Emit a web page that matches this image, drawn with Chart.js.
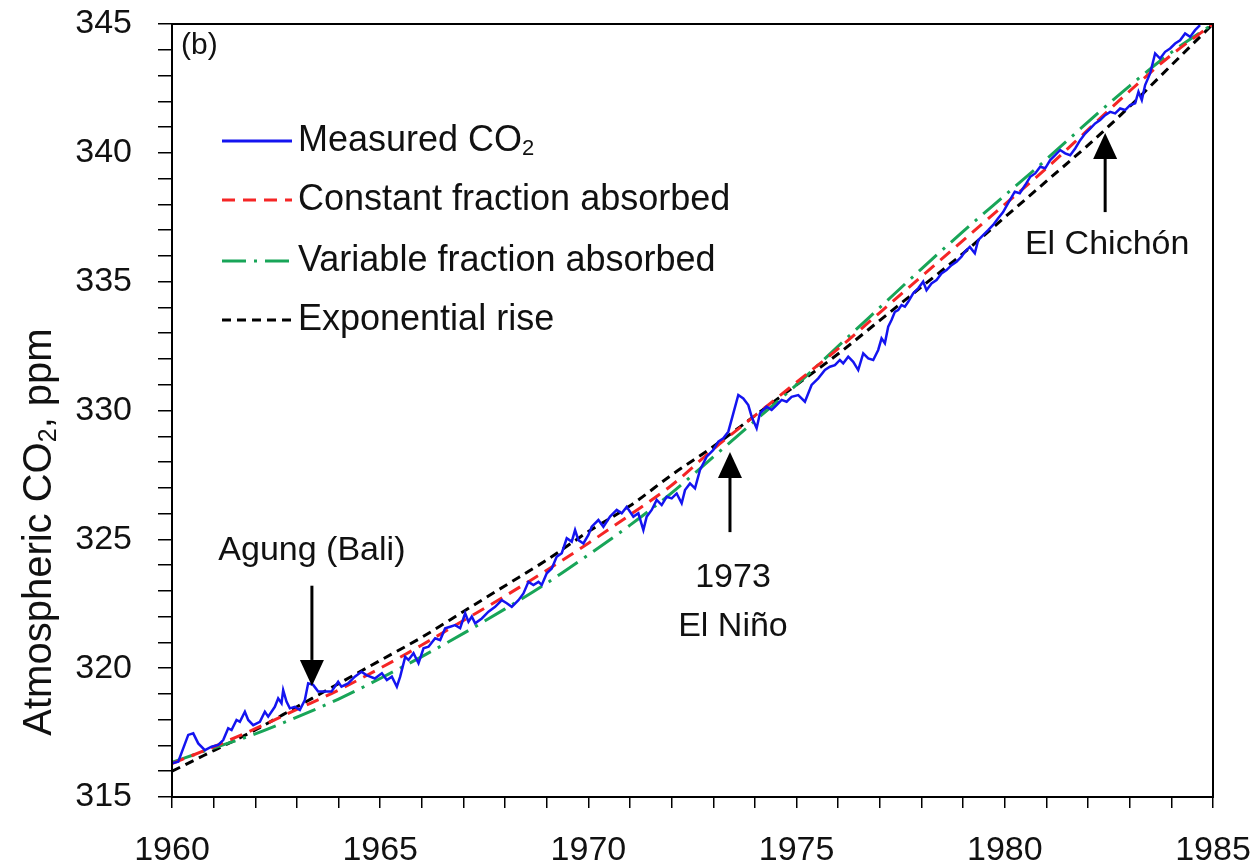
<!DOCTYPE html>
<html>
<head>
<meta charset="utf-8">
<title>Atmospheric CO2 1960-1985</title>
<script src="https://cdn.jsdelivr.net/npm/chart.js@4.4.1/dist/chart.umd.min.js"></script>
<style>
    html, body { margin: 0; padding: 0; background: #fff; }
    #wrap { width: 1257px; height: 868px; position: relative; }
</style>
</head>
<body>
<div id="wrap"><canvas id="co2Chart" width="1257" height="868"></canvas></div>
<script>
// Measured (deseasonalised) CO2
const measuredYear = [
    1960.00, 1960.15, 1960.39, 1960.51, 1960.63, 1960.79, 1960.95, 1961.11, 1961.23, 1961.35,
    1961.43, 1961.55, 1961.63, 1961.75, 1961.83, 1961.95, 1962.11, 1962.23, 1962.31, 1962.47,
    1962.55, 1962.63, 1962.67, 1962.75, 1962.83, 1962.95, 1963.07, 1963.19, 1963.27, 1963.39,
    1963.51, 1963.67, 1963.83, 1963.99, 1964.07, 1964.23, 1964.39, 1964.55, 1964.67, 1964.87,
    1965.04, 1965.16, 1965.28, 1965.40, 1965.48, 1965.60, 1965.68, 1965.80, 1965.92, 1966.04,
    1966.16, 1966.32, 1966.44, 1966.56, 1966.68, 1966.80, 1966.92, 1967.04, 1967.12, 1967.20,
    1967.28, 1967.44, 1967.60, 1967.76, 1967.92, 1968.04, 1968.16, 1968.32, 1968.44, 1968.56,
    1968.68, 1968.80, 1968.88, 1969.00, 1969.12, 1969.24, 1969.36, 1969.48, 1969.60, 1969.68,
    1969.76, 1969.88, 1970.00, 1970.08, 1970.24, 1970.36, 1970.52, 1970.68, 1970.80, 1970.92,
    1971.08, 1971.20, 1971.32, 1971.40, 1971.52, 1971.64, 1971.76, 1971.88, 1972.00, 1972.12,
    1972.24, 1972.32, 1972.44, 1972.56, 1972.68, 1972.84, 1973.00, 1973.12, 1973.24, 1973.36,
    1973.48, 1973.60, 1973.72, 1973.84, 1973.92, 1974.04, 1974.12, 1974.28, 1974.40, 1974.52,
    1974.64, 1974.76, 1974.88, 1975.04, 1975.20, 1975.36, 1975.52, 1975.68, 1975.80, 1975.92,
    1976.04, 1976.12, 1976.24, 1976.36, 1976.48, 1976.60, 1976.72, 1976.84, 1976.96, 1977.04,
    1977.12, 1977.20, 1977.28, 1977.36, 1977.44, 1977.52, 1977.60, 1977.68, 1977.80, 1977.92,
    1978.04, 1978.12, 1978.24, 1978.36, 1978.48, 1978.60, 1978.72, 1978.84, 1978.96, 1979.04,
    1979.16, 1979.28, 1979.36, 1979.48, 1979.60, 1979.72, 1979.84, 1979.96, 1980.08, 1980.24,
    1980.36, 1980.49, 1980.61, 1980.73, 1980.85, 1980.97, 1981.09, 1981.21, 1981.33, 1981.45,
    1981.57, 1981.69, 1981.81, 1981.93, 1982.05, 1982.17, 1982.29, 1982.41, 1982.53, 1982.65,
    1982.77, 1982.89, 1983.01, 1983.13, 1983.21, 1983.29, 1983.37, 1983.49, 1983.61, 1983.73,
    1983.85, 1983.97, 1984.09, 1984.21, 1984.33, 1984.45, 1984.57, 1984.69
];
const measuredPpm = [
    316.31, 316.37, 317.41, 317.47, 317.08, 316.82, 316.95, 317.02, 317.21, 317.67,
    317.60, 317.99, 317.92, 318.31, 317.99, 317.79, 317.92, 318.31, 318.12, 318.50,
    318.83, 318.64, 319.15, 318.70, 318.44, 318.50, 318.38, 318.76, 319.41, 319.35,
    319.09, 319.09, 319.09, 319.47, 319.28, 319.41, 319.67, 319.86, 319.73, 319.60,
    319.80, 319.54, 319.67, 319.28, 319.67, 320.44, 320.32, 320.58, 320.19, 320.77,
    320.83, 321.16, 321.09, 321.55, 321.61, 321.67, 321.55, 322.13, 321.80, 322.00,
    321.74, 321.93, 322.19, 322.38, 322.64, 322.52, 322.38, 322.64, 322.90, 323.35,
    323.23, 323.35, 323.23, 323.68, 323.87, 324.33, 324.46, 325.04, 324.91, 325.36,
    324.97, 324.84, 325.17, 325.49, 325.75, 325.49, 325.88, 326.14, 326.01, 326.26,
    325.88, 326.01, 325.36, 325.88, 326.14, 326.53, 326.33, 326.65, 326.59, 326.78,
    326.40, 326.91, 327.17, 326.98, 327.69, 328.21, 328.47, 328.79, 328.92, 329.18,
    329.89, 330.60, 330.47, 330.21, 329.76, 329.31, 329.89, 330.15, 330.02, 330.21,
    330.41, 330.34, 330.53, 330.60, 330.34, 330.99, 331.25, 331.57, 331.70, 331.76,
    331.96, 331.83, 332.09, 331.89, 331.57, 332.22, 332.02, 331.96, 332.35, 332.80,
    332.61, 333.25, 333.51, 333.83, 333.90, 334.09, 334.03, 334.22, 334.55, 334.74,
    335.00, 334.67, 334.93, 335.06, 335.32, 335.45, 335.64, 335.77, 335.97, 336.16,
    336.35, 336.10, 336.61, 336.81, 337.00, 337.20, 337.46, 337.70, 338.05, 338.49,
    338.43, 338.75, 339.07, 339.20, 339.46, 339.40, 339.72, 339.91, 340.11, 339.98,
    339.91, 340.17, 340.49, 340.75, 340.94, 341.14, 341.27, 341.46, 341.59, 341.53,
    341.72, 341.66, 341.85, 341.92, 342.37, 342.05, 342.63, 343.08, 343.86, 343.66,
    343.92, 344.05, 344.24, 344.37, 344.63, 344.50, 344.76, 344.96
];

// Model curves, read once per year
const modelYear = [1960, 1961, 1962, 1963, 1964, 1965, 1966, 1967, 1968, 1969, 1970, 1971, 1972,
                   1973, 1974, 1975, 1976, 1977, 1978, 1979, 1980, 1981, 1982, 1983, 1984, 1985];
const constantFraction = [316.30, 316.95, 317.65, 318.40, 319.15, 320.00, 320.90, 321.85, 322.80,
                          323.80, 324.85, 325.95, 327.10, 328.50, 329.80, 331.10, 332.40, 333.80,
                          335.20, 336.60, 338.00, 339.40, 340.90, 342.40, 343.80, 345.00];
const variableFraction = [316.35, 316.90, 317.45, 318.10, 318.80, 319.60, 320.45, 321.35, 322.30,
                          323.30, 324.40, 325.55, 326.80, 328.20, 329.60, 331.00, 332.50, 334.00,
                          335.50, 336.95, 338.35, 339.75, 341.20, 342.60, 343.90, 345.00];
const exponentialRise = [316.00, 316.80, 317.60, 318.50, 319.40, 320.30, 321.20, 322.20, 323.20,
                         324.20, 325.30, 326.30, 327.50, 328.60, 329.80, 331.00, 332.20, 333.50,
                         334.80, 336.10, 337.50, 338.90, 340.30, 341.80, 343.40, 345.00];

const FONT = '"Liberation Sans", Arial, sans-serif';

function toPoints(xs, ys) {
    return xs.map((x, i) => ({ x: x, y: ys[i] }));
}

function drawSubText(ctx, main, sub, tail, x, y, size) {
    // main text, subscript "2", then the rest
    ctx.font = size + 'px ' + FONT;
    ctx.fillText(main, x, y);
    let w = ctx.measureText(main).width;
    ctx.font = Math.round(size * 0.62) + 'px ' + FONT;
    ctx.fillText(sub, x + w, y + size * 0.22);
    w += ctx.measureText(sub).width;
    if (tail) {
        ctx.font = size + 'px ' + FONT;
        ctx.fillText(tail, x + w, y);
        w += ctx.measureText(tail).width;
    }
    return w;
}

function drawArrow(ctx, px, fromY, toY) {
    const dir = toY > fromY ? 1 : -1;
    const headH = 26, headW = 12;
    ctx.beginPath();
    ctx.moveTo(px, fromY);
    ctx.lineTo(px, toY - dir * headH);
    ctx.lineWidth = 3;
    ctx.strokeStyle = '#000';
    ctx.stroke();
    ctx.beginPath();
    ctx.moveTo(px, toY);
    ctx.lineTo(px - headW, toY - dir * headH);
    ctx.lineTo(px + headW, toY - dir * headH);
    ctx.closePath();
    ctx.fillStyle = '#000';
    ctx.fill();
}

const overlayPlugin = {
    id: 'overlay',
    afterDraw(chart) {
        const ctx = chart.ctx;
        const a = chart.chartArea;
        const xs = chart.scales.x, ys = chart.scales.y;
        ctx.save();

        // frame round the plot
        ctx.strokeStyle = '#000';
        ctx.lineWidth = 2;
        ctx.strokeRect(a.left, a.top, a.right - a.left, a.bottom - a.top);

        ctx.fillStyle = '#111';
        ctx.textBaseline = 'middle';

        // panel letter
        ctx.textAlign = 'left';
        ctx.font = '30px ' + FONT;
        ctx.fillText('(b)', a.left + 9, a.top + 22);

        // legend
        const rows = [a.top + 117, a.top + 176, a.top + 237, a.top + 296];
        chart.data.datasets.forEach((ds, i) => {
            const yy = rows[i];
            ctx.save();
            ctx.beginPath();
            ctx.setLineDash(ds.borderDash || []);
            ctx.strokeStyle = ds.borderColor;
            ctx.lineWidth = 3;
            ctx.moveTo(a.left + 50, yy);
            ctx.lineTo(a.left + 120, yy);
            ctx.stroke();
            ctx.restore();
            ctx.fillStyle = '#111';
            ctx.textAlign = 'left';
            if (i === 0) {
                drawSubText(ctx, 'Measured CO', '2', '', a.left + 126, yy, 36);
            } else {
                ctx.font = '36px ' + FONT;
                ctx.fillText(ds.label, a.left + 126, yy);
            }
        });

        // event annotations
        ctx.textAlign = 'center';
        ctx.font = '34px ' + FONT;
        ctx.fillStyle = '#111';
        const ax = xs.getPixelForValue(1963.36);
        ctx.fillText('Agung (Bali)', ax, ys.getPixelForValue(324.55));
        drawArrow(ctx, ax, ys.getPixelForValue(323.2), ys.getPixelForValue(319.31));

        const nx = xs.getPixelForValue(1973.40);
        ctx.fillStyle = '#111';
        ctx.fillText('1973', nx + 3, ys.getPixelForValue(323.5));
        ctx.fillText('El Niño', nx + 3, ys.getPixelForValue(321.6));
        drawArrow(ctx, nx, ys.getPixelForValue(325.28), ys.getPixelForValue(328.39));

        const cx = xs.getPixelForValue(1982.41);
        ctx.fillStyle = '#111';
        ctx.fillText('El Chichón', cx + 2, ys.getPixelForValue(336.42));
        drawArrow(ctx, cx, ys.getPixelForValue(337.7), ys.getPixelForValue(340.77));

        // y axis title (sits low, as in the original)
        ctx.save();
        ctx.translate(40, 532);
        ctx.rotate(-Math.PI / 2);
        ctx.fillStyle = '#111';
        ctx.textAlign = 'left';
        const parts = ['Atmospheric CO', '2', ', ppm'];
        ctx.font = '40px ' + FONT;
        let total = ctx.measureText(parts[0]).width + ctx.measureText(parts[2]).width;
        ctx.font = '25px ' + FONT;
        total += ctx.measureText(parts[1]).width;
        drawSubText(ctx, parts[0], parts[1], parts[2], -total / 2, 0, 40);
        ctx.restore();

        ctx.restore();
    }
};

const ctx = document.getElementById('co2Chart').getContext('2d');
new Chart(ctx, {
    type: 'line',
    data: {
        datasets: [{
            label: 'Measured CO2',
            data: toPoints(measuredYear, measuredPpm),
            borderColor: '#1414f0',
            borderWidth: 2.5,
            pointRadius: 0,
            tension: 0
        }, {
            label: 'Constant fraction absorbed',
            data: toPoints(modelYear, constantFraction),
            borderColor: '#f52525',
            borderWidth: 3,
            borderDash: [13, 8],
            pointRadius: 0,
            cubicInterpolationMode: 'monotone'
        }, {
            label: 'Variable fraction absorbed',
            data: toPoints(modelYear, variableFraction),
            borderColor: '#18a558',
            borderWidth: 3,
            borderDash: [24, 8, 3, 8],
            pointRadius: 0,
            cubicInterpolationMode: 'monotone'
        }, {
            label: 'Exponential rise',
            data: toPoints(modelYear, exponentialRise),
            borderColor: '#000000',
            borderWidth: 3,
            borderDash: [9, 6],
            pointRadius: 0,
            cubicInterpolationMode: 'monotone'
        }]
    },
    options: {
        responsive: false,
        animation: false,
        layout: {
            padding: { top: 24, right: 44, left: 0, bottom: 0 }
        },
        scales: {
            x: {
                type: 'linear',
                min: 1960,
                max: 1985,
                afterFit: s => {
                    s.height = 71;
                    s.paddingLeft = 0;
                    s.paddingRight = 0;
                },
                ticks: {
                    stepSize: 1,
                    autoSkip: false,
                    maxRotation: 0,
                    padding: 22,
                    color: '#111',
                    font: { family: FONT, size: 34 },
                    callback: v => (v % 5 === 0 ? String(v) : '')
                },
                grid: {
                    drawOnChartArea: false,
                    drawTicks: true,
                    tickLength: 11,
                    color: '#000',
                    lineWidth: 1.5
                },
                border: { color: '#000', width: 2 }
            },
            y: {
                type: 'linear',
                min: 315,
                max: 345,
                afterFit: s => {
                    s.width = 172;
                    s.paddingTop = 0;
                    s.paddingBottom = 0;
                },
                ticks: {
                    stepSize: 1,
                    autoSkip: false,
                    padding: 26,
                    color: '#111',
                    font: { family: FONT, size: 34 },
                    callback: v => (v % 5 === 0 ? String(v) : '')
                },
                grid: {
                    drawOnChartArea: false,
                    drawTicks: true,
                    tickLength: 14,
                    color: '#000',
                    lineWidth: 1.5
                },
                border: { color: '#000', width: 2 }
            }
        },
        plugins: {
            legend: { display: false },
            tooltip: { enabled: false }
        }
    },
    plugins: [overlayPlugin]
});
</script>
</body>
</html>
